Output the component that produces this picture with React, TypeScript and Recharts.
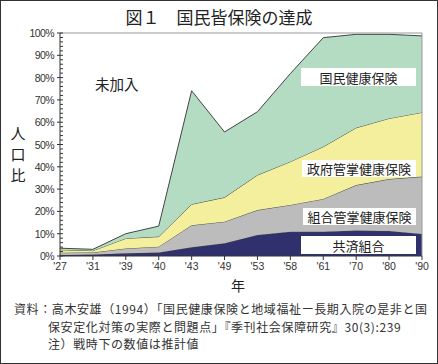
import React from 'react';
import { AreaChart, Area, XAxis, YAxis, ReferenceLine } from 'recharts';

const years = ["'27", "'31", "'39", "'40", "'43", "'49", "'53", "'58", "'61", "'70", "'80", "'90"];
const kyosai = [0.4, 0.7, 1.2, 1.6, 3.9, 5.7, 9.4, 10.9, 10.9, 11.4, 11.2, 9.9];
const kumiai = [1.1, 0.9, 2.2, 2.6, 9.9, 9.7, 11.2, 12.0, 14.7, 20.4, 23.3, 25.7];
const seifu = [1.3, 0.8, 4.5, 4.5, 9.4, 10.9, 15.7, 19.4, 23.4, 25.7, 27.2, 28.8];
const kokuho = [0.7, 0.6, 2.1, 4.7, 50.9, 29.3, 28.4, 39.5, 48.9, 41.9, 37.7, 34.3];
const yTicks = [0, 2, 4, 6, 8, 10, 12, 14, 16, 18, 20, 22, 24, 26, 28, 30, 32, 34, 36, 38, 40, 42, 44, 46, 48, 50, 52, 54, 56, 58, 60, 62, 64, 66, 68, 70, 72, 74, 76, 78, 80, 82, 84, 86, 88, 90, 92, 94, 96, 98, 100];
const seriesNames = ['共済組合', '組合管掌健康保険', '政府管掌健康保険', '国民健康保険'];

const data = years.map((y, i) => ({
  year: y,
  kyosai: kyosai[i],
  kumiai: kumiai[i],
  seifu: seifu[i],
  kokuho: kokuho[i],
}));

const FONT = '"Noto Sans CJK JP", "Noto Sans", sans-serif';
const NUMFONT = '"Liberation Sans", Arial, sans-serif';

const YTick = (props: any) => {
  const { x, y, payload } = props;
  const v = payload.value as number;
  const major = v % 10 === 0;
  return (
    <g>
      {major ? (
        <>
          <line x1={x - 3} x2={x + 3} y1={y} y2={y} stroke="#333" />
          <text x={x - 6} y={y} dy={4} textAnchor="end" fontSize={10.5} fill="#333" fontFamily={NUMFONT} letterSpacing={-0.6}>
            {v + '%'}
          </text>
        </>
      ) : (
        <line x1={x} x2={x + 3} y1={y} y2={y} stroke="#333" />
      )}
    </g>
  );
};

const boxStyle = (left: number, top: number, width: number, height: number): React.CSSProperties => ({
  position: 'absolute',
  left,
  top,
  width,
  height,
  background: '#fff',
  fontFamily: FONT,
  fontSize: 13,
  color: '#222',
  display: 'flex',
  alignItems: 'center',
  justifyContent: 'center',
  lineHeight: 1,
});

export default function App() {
  return (
    <div style={{ position: 'absolute', left: 0, top: 0, width: 438, height: 364, background: '#fff', overflow: 'hidden' }}>
      <div style={{ position: 'absolute', left: 0, top: 6, width: 438, textAlign: 'center', fontFamily: FONT, fontSize: 17, color: '#222', lineHeight: '22px' }}>
        図１　国民皆保険の達成
      </div>
      <div style={{ position: 'absolute', left: 0, top: 0 }}>
        <AreaChart width={438} height={364} data={data} margin={{ top: 33, right: 16, left: 10, bottom: 78 }}>
          <XAxis
            dataKey="year"
            tickSize={4}
            tickMargin={3}
            height={30}
            stroke="#333"
            tick={{ fontSize: 10.5, fill: '#333', fontFamily: NUMFONT }}
            interval={0}
          />
          <YAxis
            width={50}
            domain={[0, 100]}
            ticks={yTicks}
            interval={0}
            tickSize={0}
            tickMargin={0}
            tickLine={false}
            stroke="#333"
            tick={<YTick />}
            allowDataOverflow
          />
          <Area type="linear" dataKey="kyosai" name={seriesNames[0]} stackId="a" fill="#30306f" fillOpacity={1} stroke="#444" strokeWidth={1} isAnimationActive={false} />
          <Area type="linear" dataKey="kumiai" name={seriesNames[1]} stackId="a" fill="#bcbcbc" fillOpacity={1} stroke="#444" strokeWidth={1} isAnimationActive={false} />
          <Area type="linear" dataKey="seifu" name={seriesNames[2]} stackId="a" fill="#f4ef9c" fillOpacity={1} stroke="#444" strokeWidth={1} isAnimationActive={false} />
          <Area type="linear" dataKey="kokuho" name={seriesNames[3]} stackId="a" fill="#b3dcc3" fillOpacity={1} stroke="#444" strokeWidth={1} isAnimationActive={false} />
          <ReferenceLine y={100} stroke="#999" />
          <ReferenceLine x="'90" stroke="#999" />
        </AreaChart>
      </div>
      <div style={{ position: 'absolute', left: 95, top: 77, fontFamily: FONT, fontSize: 14.5, color: '#222', lineHeight: 1 }}>未加入</div>
      <div style={boxStyle(301, 68, 115, 18)}>{seriesNames[3]}</div>
      <div style={boxStyle(302, 160, 114, 17)}>{seriesNames[2]}</div>
      <div style={boxStyle(303, 208, 113, 17)}>{seriesNames[1]}</div>
      <div style={boxStyle(301, 236, 115, 18)}>{seriesNames[0]}</div>
      <div style={{ position: 'absolute', left: 9, top: 122, width: 18, fontFamily: FONT, fontSize: 15, color: '#222', lineHeight: '21px', textAlign: 'center' }}>
        人<br />口<br />比
      </div>
      <div style={{ position: 'absolute', left: 231, top: 278, fontFamily: FONT, fontSize: 14, color: '#222', lineHeight: 1 }}>年</div>
      <div style={{ position: 'absolute', left: 14, top: 300, fontFamily: FONT, fontSize: 12, color: '#333', lineHeight: '17.5px', whiteSpace: 'nowrap', letterSpacing: 0.6 }}>
        <div>資料：<span style={{ marginLeft: 0 }}>高木安雄（1994）「国民健康保険と地域福祉ー長期入院の是非と国</span></div>
        <div style={{ paddingLeft: 34 }}>保安定化対策の実際と問題点」『季刊社会保障研究』30(3):239</div>
        <div style={{ paddingLeft: 34 }}>注）戦時下の数値は推計値</div>
      </div>
      <div style={{ position: 'absolute', left: 0, top: 0, width: 438, height: 364, boxSizing: 'border-box', border: '1px solid #333', pointerEvents: 'none' }} />
    </div>
  );
}
